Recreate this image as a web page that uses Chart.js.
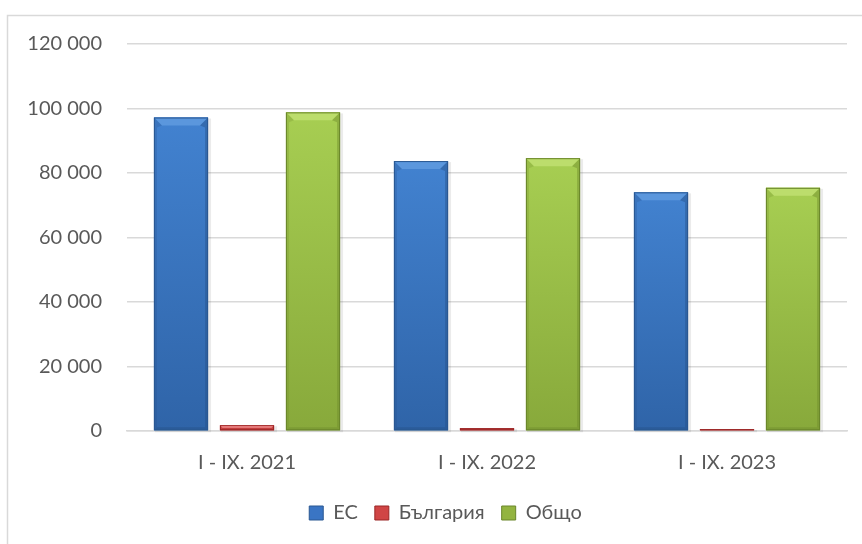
<!DOCTYPE html>
<html>
<head>
<meta charset="utf-8">
<script src="https://cdn.jsdelivr.net/npm/chart.js@4/dist/chart.umd.min.js"></script>
<style>
html,body{margin:0;padding:0;background:#fff;}
#wrap{position:relative;width:862px;height:544px;}
</style>
</head>
<body>
<div id="wrap"><canvas id="c" width="862" height="544"></canvas></div>
<script>
const categories = ['I - IX. 2021', 'I - IX. 2022', 'I - IX. 2023'];
const seriesNames = ['ЕС', 'България', 'Общо'];
const valuesEU = [97200, 83700, 74000];
const valuesBG = [1800, 900, 600];
const valuesTotal = [98800, 84600, 75400];
const yTicks = [0, 20000, 40000, 60000, 80000, 100000, 120000];

const palettes = [
  {top:'#4282d0', bottom:'#2f64a8', bevel:'#5b97dd', low:'#264f88', border:'#2a5892', legend:'#3a75c4'},
  {top:'#ee6464', bottom:'#cc4040', bevel:'#f59090', low:'#a82c2c', border:'#9a2626', legend:'#d04545'},
  {top:'#a7ce52', bottom:'#88a93b', bevel:'#bcdd6c', low:'#6f8c2c', border:'#6a862b', legend:'#93b440'}
];

function fmt(v){ return String(v).replace(/\B(?=(\d{3})+(?!\d))/g, ' '); }

const frame = {
  id:'frame',
  beforeDraw(chart){
    const ctx = chart.ctx;
    ctx.save();
    ctx.fillStyle = '#fff';
    ctx.fillRect(0,0,chart.width,chart.height);
    ctx.strokeStyle = '#d9d9d9';
    ctx.lineWidth = 1.5;
    ctx.beginPath();
    ctx.moveTo(7.5, chart.height + 2);
    ctx.lineTo(7.5, 15.5);
    ctx.lineTo(chart.width + 2, 15.5);
    ctx.stroke();
    ctx.restore();
  }
};

const legendShift = {
  id:'legendShift',
  afterLayout(chart){
    if (chart.legend) { chart.legend.left += 22; chart.legend.right += 22; }
  }
};

const bevel = {
  id:'bevel',
  afterDatasetsDraw(chart){
    const ctx = chart.ctx;
    chart.data.datasets.forEach((ds, di) => {
      const meta = chart.getDatasetMeta(di);
      const p = palettes[di];
      meta.data.forEach(bar => {
        const l = bar.x - bar.width/2, r = bar.x + bar.width/2;
        const t = Math.min(bar.y, bar.base), b = Math.max(bar.y, bar.base);
        const h = b - t, w = r - l;
        if (h <= 0) return;
        ctx.save();
        ctx.fillStyle = 'rgba(0,0,0,0.08)';
        ctx.fillRect(l+1, t+1, w+2, h+1);
        const g = ctx.createLinearGradient(0, t, 0, b);
        g.addColorStop(0, p.top);
        g.addColorStop(1, p.bottom);
        ctx.fillStyle = g;
        ctx.fillRect(l, t, w, h);
        const k = Math.min(8, h/2, w/2);
        const s = Math.min(3, h/2);
        ctx.fillStyle = p.bevel;
        ctx.beginPath();
        ctx.moveTo(l,t); ctx.lineTo(r,t); ctx.lineTo(r-k,t+k); ctx.lineTo(l+k,t+k); ctx.closePath(); ctx.fill();
        ctx.globalAlpha = 0.45;
        ctx.fillStyle = p.low;
        ctx.beginPath();
        ctx.moveTo(r,t); ctx.lineTo(r-k,t+k); ctx.lineTo(r-s,t+k+2); ctx.lineTo(r-s,b-s); ctx.lineTo(r,b); ctx.closePath(); ctx.fill();
        ctx.beginPath();
        ctx.moveTo(l,b); ctx.lineTo(l+s,b-s); ctx.lineTo(r-s,b-s); ctx.lineTo(r,b); ctx.closePath(); ctx.fill();
        ctx.globalAlpha = 0.25;
        ctx.beginPath();
        ctx.moveTo(l,t); ctx.lineTo(l+k,t+k); ctx.lineTo(l+s,t+k+2); ctx.lineTo(l+s,b-s); ctx.lineTo(l,b); ctx.closePath(); ctx.fill();
        ctx.globalAlpha = 1;
        ctx.strokeStyle = p.border;
        ctx.lineWidth = 1;
        ctx.strokeRect(l+0.5, t+0.5, w-1, h-1);
        ctx.restore();
      });
    });
  }
};

const FONT = 'Lato, "Open Sans", sans-serif';
const dataSets = [valuesEU, valuesBG, valuesTotal];

new Chart(document.getElementById('c'), {
  type:'bar',
  data:{
    labels: categories,
    datasets: seriesNames.map((n, i) => ({
      label: n,
      data: dataSets[i],
      backgroundColor: palettes[i].legend,
      borderWidth: 0,
      categoryPercentage: 0.825,
      barPercentage: 0.82
    }))
  },
  options:{
    responsive:false,
    animation:false,
    layout:{padding:{left:0, right:15, top:44, bottom:11}},
    plugins:{
      tooltip:{enabled:false},
      legend:{
        position:'bottom',
        labels:{
          font:{family:FONT, size:20},
          color:'#595959',
          boxWidth:14, boxHeight:14,
          padding:17,
          generateLabels(chart){
            return chart.data.datasets.map((ds,i)=>({
              text: ds.label,
              fillStyle: palettes[i].legend,
              strokeStyle: palettes[i].border,
              lineWidth: 1,
              datasetIndex: i,
              fontColor:'#595959'
            }));
          }
        }
      }
    },
    scales:{
      x:{
        grid:{display:false, drawTicks:false},
        border:{display:true, color:'#d9d9d9', width:1.5},
        ticks:{font:{family:FONT, size:20}, color:'#595959', padding:20},
        afterFit(s){ s.height = 55; }
      },
      y:{
        min:0, max:120000,
        afterBuildTicks(s){ s.ticks = yTicks.map(v=>({value:v})); },
        grid:{color:'#d9d9d9', lineWidth:1.5, drawTicks:false},
        border:{display:false},
        ticks:{font:{family:FONT, size:20}, color:'#595959', padding:25, callback:v=>fmt(v)},
        afterFit(s){ s.width = 127; }
      }
    }
  },
  plugins:[frame, legendShift, bevel]
});
</script>
</body>
</html>
